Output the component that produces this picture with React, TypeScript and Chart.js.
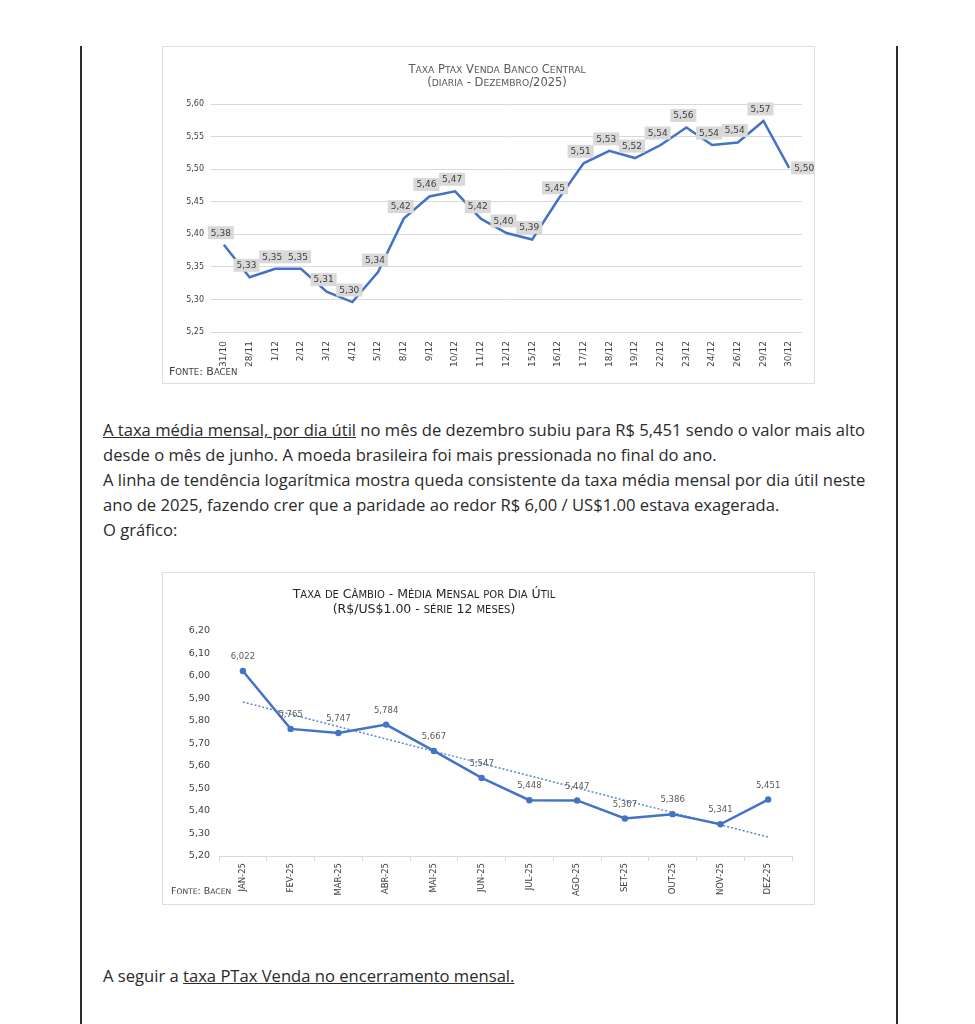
import React, { useEffect, useRef } from "react";
import { Chart, registerables } from "chart.js";
Chart.register(...registerables);

// ---------- Data: daily PTAX (Dec/2025) ----------
const dailyDates = ["31/10","28/11","1/12","2/12","3/12","4/12","5/12","8/12","9/12","10/12","11/12","12/12","15/12","16/12","17/12","18/12","19/12","22/12","23/12","24/12","26/12","29/12","30/12"];
const dailyRates = [5.384,5.334,5.347,5.347,5.312,5.296,5.342,5.424,5.458,5.466,5.424,5.402,5.392,5.453,5.509,5.528,5.517,5.537,5.564,5.537,5.541,5.574,5.502];
const dailyAxis = { min: 5.25, max: 5.6, step: 0.05 };
const dailyTitle = ["Taxa Ptax Venda Banco Central", "(diaria - Dezembro/2025)"];

// ---------- Data: monthly average ----------
const months = ["JAN-25","FEV-25","MAR-25","ABR-25","MAI-25","JUN-25","JUL-25","AGO-25","SET-25","OUT-25","NOV-25","DEZ-25"];
const monthlyAvg = [6.022,5.765,5.747,5.784,5.667,5.547,5.448,5.447,5.367,5.386,5.341,5.451];
const trendEnds = [5.884, 5.284];
const monthlyAxis = { min: 5.2, max: 6.2, step: 0.1 };
const monthlyTitle = ["Taxa de Câmbio - Média Mensal por Dia Útil", "(R$/US$1.00 - série 12 meses)"];
const sourceText = "Fonte: Bacen";

const BLUE = "#4472C4";
const FAM = '"DejaVu Sans"';

const fmt = (v: number, d: number) => v.toFixed(d).replace(".", ",");

function drawSmallCaps(ctx: CanvasRenderingContext2D, text: string, x: number, y: number, size: number, ratio: number, color: string, align: "center" | "left") {
  const runs: { t: string; lower: boolean }[] = [];
  for (const ch of text) {
    const lower = ch !== ch.toUpperCase();
    const last = runs[runs.length - 1];
    if (last && last.lower === lower) last.t += ch;
    else runs.push({ t: ch, lower });
  }
  const small = size * ratio;
  let total = 0;
  const parts = runs.map((r) => {
    const sz = r.lower ? small : size;
    ctx.font = `${sz}px ${FAM}`;
    const s = r.lower ? r.t.toUpperCase() : r.t;
    const w = ctx.measureText(s).width;
    total += w;
    return { s, w, sz };
  });
  let cx = align === "center" ? x - total / 2 : x;
  ctx.textAlign = "left";
  ctx.textBaseline = "alphabetic";
  ctx.fillStyle = color;
  for (const p of parts) {
    ctx.font = `${p.sz}px ${FAM}`;
    ctx.fillText(p.s, cx, y);
    cx += p.w;
  }
}

function DailyChart() {
  const ref = useRef<HTMLCanvasElement>(null);
  useEffect(() => {
    const decor = {
      id: "decor1",
      afterDraw(chart: any) {
        const ctx = chart.ctx;
        ctx.save();
        drawSmallCaps(ctx, dailyTitle[0], 334, 26, 11.5, 0.8, "#595959", "center");
        drawSmallCaps(ctx, dailyTitle[1], 334, 39, 11.5, 0.8, "#595959", "center");
        drawSmallCaps(ctx, sourceText, 6, 328, 11, 0.78, "#404040", "left");
        ctx.restore();
      },
      afterDatasetsDraw(chart: any) {
        const ctx = chart.ctx;
        const meta = chart.getDatasetMeta(0);
        ctx.save();
        ctx.font = `9px ${FAM}`;
        ctx.textAlign = "center";
        ctx.textBaseline = "middle";
        meta.data.forEach((pt: any, i: number) => {
          const txt = fmt(dailyRates[i], 2);
          const last = i === meta.data.length - 1;
          const w = ctx.measureText(txt).width + 6;
          const h = 13;
          const cx = last ? pt.x + 15 : pt.x - 3;
          const cy = last ? pt.y : pt.y - 12;
          ctx.fillStyle = "#d9d9d9";
          ctx.fillRect(cx - w / 2, cy - h / 2, w, h);
          ctx.fillStyle = "#404040";
          ctx.fillText(txt, cx, cy + 0.5);
        });
        ctx.restore();
      },
    };
    const chart = new Chart(ref.current!, {
      type: "line",
      data: {
        labels: dailyDates,
        datasets: [
          {
            data: dailyRates,
            borderColor: BLUE,
            borderWidth: 2.5,
            pointRadius: 0,
            tension: 0,
            fill: false,
          },
        ],
      },
      options: {
        animation: false,
        responsive: false,
        layout: { padding: { top: 57, right: 12, left: 0, bottom: 0 } },
        plugins: { legend: { display: false }, title: { display: false }, tooltip: { enabled: false } },
        scales: {
          x: {
            type: "category",
            offset: true,
            grid: { display: false },
            border: { display: false },
            ticks: { minRotation: 90, maxRotation: 90, autoSkip: false, color: "#404040", font: { family: "DejaVu Sans", size: 9 }, padding: 1 },
            afterFit: (s: any) => { s.height = 51; },
          },
          y: {
            min: dailyAxis.min,
            max: dailyAxis.max,
            border: { display: false },
            grid: { color: "#d9d9d9", drawTicks: false, lineWidth: 1 },
            ticks: {
              stepSize: dailyAxis.step,
              color: "#404040",
              font: { family: "DejaVu Sans", size: 8 },
              padding: 7,
              callback: (v: any) => fmt(Number(v), 2),
            },
            afterFit: (s: any) => { s.width = 48; },
          },
        },
      },
      plugins: [decor],
    });
    return () => chart.destroy();
  }, []);
  return <canvas ref={ref} width={651} height={336} style={{ display: "block", width: 651, height: 336 }} />;
}

function MonthlyChart() {
  const ref = useRef<HTMLCanvasElement>(null);
  useEffect(() => {
    const decor = {
      id: "decor2",
      afterDraw(chart: any) {
        const ctx = chart.ctx;
        ctx.save();
        drawSmallCaps(ctx, monthlyTitle[0], 261, 25, 12.5, 0.8, "#262626", "center");
        drawSmallCaps(ctx, monthlyTitle[1], 261, 40, 12.5, 0.8, "#262626", "center");
        drawSmallCaps(ctx, sourceText, 8, 321, 9.5, 0.8, "#404040", "left");
        ctx.restore();
      },
      afterDatasetsDraw(chart: any) {
        const ctx = chart.ctx;
        const meta = chart.getDatasetMeta(0);
        ctx.save();
        ctx.font = `8.5px ${FAM}`;
        ctx.textAlign = "center";
        ctx.textBaseline = "middle";
        ctx.fillStyle = "#595959";
        meta.data.forEach((pt: any, i: number) => {
          ctx.fillText(fmt(monthlyAvg[i], 3), pt.x, pt.y - 14);
        });
        ctx.restore();
      },
    };
    const trendData = months.map((_, i) => (i === 0 ? trendEnds[0] : i === months.length - 1 ? trendEnds[1] : null));
    const chart = new Chart(ref.current!, {
      type: "line",
      data: {
        labels: months,
        datasets: [
          {
            data: monthlyAvg,
            borderColor: BLUE,
            backgroundColor: BLUE,
            borderWidth: 2.5,
            pointRadius: 3.2,
            pointBorderWidth: 0,
            tension: 0,
            fill: false,
            order: 1,
          },
          {
            data: trendData as any,
            borderColor: "#5B8ACF",
            borderWidth: 1.5,
            borderDash: [2, 2],
            pointRadius: 0,
            spanGaps: true,
            tension: 0,
            fill: false,
            order: 2,
          },
        ],
      },
      options: {
        animation: false,
        responsive: false,
        layout: { padding: { top: 58, right: 22, left: 0, bottom: 0 } },
        plugins: { legend: { display: false }, title: { display: false }, tooltip: { enabled: false } },
        scales: {
          x: {
            type: "category",
            offset: true,
            grid: { display: true, drawOnChartArea: false, drawTicks: true, tickLength: 5, color: "#d9d9d9", offset: true },
            border: { display: true, color: "#d9d9d9" },
            ticks: { minRotation: 90, maxRotation: 90, autoSkip: false, color: "#404040", font: { family: "DejaVu Sans", size: 8.5 }, padding: 2 },
            afterFit: (s: any) => { s.height = 48; },
          },
          y: {
            min: monthlyAxis.min,
            max: monthlyAxis.max,
            border: { display: false },
            grid: { display: false, drawTicks: false },
            ticks: {
              stepSize: monthlyAxis.step,
              color: "#404040",
              font: { family: "DejaVu Sans", size: 9.5 },
              padding: 9,
              callback: (v: any) => fmt(Number(v), 2),
            },
            afterFit: (s: any) => { s.width = 56; },
          },
        },
      },
      plugins: [decor],
    });
    return () => chart.destroy();
  }, []);
  return <canvas ref={ref} width={651} height={331} style={{ display: "block", width: 651, height: 331 }} />;
}

const textStyle: React.CSSProperties = {
  position: "absolute",
  left: 95,
  fontFamily: '"Open Sans", sans-serif',
  fontSize: 16.6,
  lineHeight: "25px",
  color: "#2a2a2a",
  whiteSpace: "nowrap",
};

export default function App() {
  return (
    <div style={{ position: "relative", width: 959, height: 1016, background: "#fff" }}>
      <div style={{ position: "absolute", left: 72, top: 38, width: 2, height: 978, background: "#2b2b2b" }} />
      <div style={{ position: "absolute", left: 888, top: 38, width: 2, height: 978, background: "#2b2b2b" }} />
      <div style={{ position: "absolute", left: 154, top: 38, width: 651, height: 336, border: "1px solid #dedede" }}>
        <DailyChart />
      </div>
      <div style={{ ...textStyle, top: 409 }}>
        <span style={{ textDecoration: "underline" }}>A taxa média mensal, por dia útil</span> no mês de dezembro subiu para R$ 5,451 sendo o valor mais alto
        <br />desde o mês de junho. A moeda brasileira foi mais pressionada no final do ano.
        <br />A linha de tendência logarítmica mostra queda consistente da taxa média mensal por dia útil neste
        <br />ano de 2025, fazendo crer que a paridade ao redor R$ 6,00 / US$1.00 estava exagerada.
        <br />O gráfico:
      </div>
      <div style={{ position: "absolute", left: 154, top: 564, width: 651, height: 331, border: "1px solid #dedede" }}>
        <MonthlyChart />
      </div>
      <div style={{ ...textStyle, top: 955 }}>
        A seguir a <span style={{ textDecoration: "underline" }}>taxa PTax Venda no encerramento mensal.</span>
      </div>
    </div>
  );
}
